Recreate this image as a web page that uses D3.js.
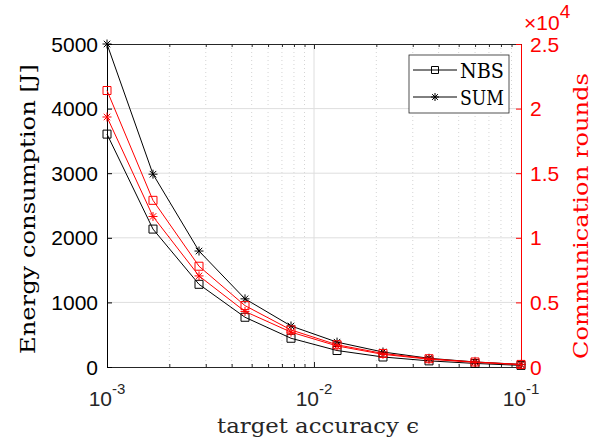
<!DOCTYPE html>
<html>
<head>
<meta charset="utf-8">
<script src="https://cdn.jsdelivr.net/npm/d3@7"></script>
<style>
  body { margin: 0; background: #fff; }
  text { font-family: "Liberation Sans", Arial, sans-serif; }
  .serif { font-family: "DejaVu Serif", "Liberation Serif", serif; }
</style>
</head>
<body>
<div id="chart"></div>
<script>
// target accuracy values (log spaced)
var accuracy = [0.001, 0.001668, 0.002783, 0.004642, 0.007743, 0.01292, 0.02154, 0.03594, 0.05995, 0.1]
// energy consumption [J]
var energy_nbs = [3605, 2135, 1280, 770, 445, 255, 155, 95, 55, 25]
var energy_sum = [5000, 2985, 1795, 1055, 635, 385, 232, 135, 78, 40]
// communication rounds
var rounds_nbs = [21400, 12900, 7800, 4750, 2870, 1720, 1050, 640, 390, 200]
var rounds_sum = [19350, 11650, 7050, 4300, 2700, 1630, 980, 600, 360, 180]

var left_ticks = [0, 1000, 2000, 3000, 4000, 5000]
var right_ticks = [0, 5000, 10000, 15000, 20000, 25000]
var right_tick_labels = ["0", "0.5", "1", "1.5", "2", "2.5"]
var x_ticks = [0.001, 0.01, 0.1]
var x_tick_exp = ["-3", "-2", "-1"]
var legend_items = [{name: "NBS", marker: "square"}, {name: "SUM", marker: "star"}]

var margin = {top: 44, right: 73, bottom: 73, left: 107}
var W = 594, H = 440
var width = W - margin.left - margin.right
var height = H - margin.top - margin.bottom

var svg = d3.select("#chart").append("svg")
    .attr("width", W)
    .attr("height", H)

var g = svg.append("g")
    .attr("transform", "translate(" + margin.left + "," + margin.top + ")")

var x = d3.scaleLog().domain([0.001, 0.1]).range([0, width])
var yL = d3.scaleLinear().domain([0, 5000]).range([height, 0])
var yR = d3.scaleLinear().domain([0, 25000]).range([height, 0])

var minor = []
;[0.001, 0.01].forEach(function(d){
  for (var k = 2; k <= 9; k++) minor.push(d * k)
})

// grid
g.append("g").selectAll("line").data(minor).enter().append("line")
    .attr("x1", function(d){ return x(d) }).attr("x2", function(d){ return x(d) })
    .attr("y1", 0).attr("y2", height)
    .attr("stroke", "#d4d4d4").attr("stroke-width", 1)
    .attr("stroke-dasharray", "1,3")
g.append("g").selectAll("line").data([0.01]).enter().append("line")
    .attr("x1", function(d){ return x(d) }).attr("x2", function(d){ return x(d) })
    .attr("y1", 0).attr("y2", height)
    .attr("stroke", "#dedede").attr("stroke-width", 1)
g.append("g").selectAll("line").data(left_ticks.slice(1, -1)).enter().append("line")
    .attr("x1", 0).attr("x2", width)
    .attr("y1", function(d){ return yL(d) }).attr("y2", function(d){ return yL(d) })
    .attr("stroke", "#dedede").attr("stroke-width", 1)

// axes
var xAxisB = d3.axisBottom(x).tickValues(x_ticks).tickSizeInner(-5).tickSizeOuter(0).tickFormat("")
var xAxisT = d3.axisTop(x).tickValues(x_ticks).tickSizeInner(-5).tickSizeOuter(0).tickFormat("")
var xMinorB = d3.axisBottom(x).tickValues(minor).tickSizeInner(-3).tickSizeOuter(0).tickFormat("")
var xMinorT = d3.axisTop(x).tickValues(minor).tickSizeInner(-3).tickSizeOuter(0).tickFormat("")

function styleAxis(sel, color){
  sel.selectAll("path").attr("stroke", color).attr("stroke-width", 1)
  sel.selectAll("line").attr("stroke", color).attr("stroke-width", 1)
}

styleAxis(g.append("g").attr("transform", "translate(0," + height + ")").call(xAxisB), "#262626")
styleAxis(g.append("g").attr("transform", "translate(0," + height + ")").call(xMinorB), "#262626")
styleAxis(g.append("g").call(xAxisT), "#262626")
styleAxis(g.append("g").call(xMinorT), "#262626")

var yAxisL = d3.axisLeft(yL).tickValues(left_ticks).tickSizeInner(-5).tickSizeOuter(0).tickFormat("")
styleAxis(g.append("g").call(yAxisL), "#000")
var yAxisR = d3.axisRight(yR).tickValues(right_ticks).tickSizeInner(-5).tickSizeOuter(0).tickFormat("")
styleAxis(g.append("g").attr("transform", "translate(" + width + ",0)").call(yAxisR), "#ff0000")

// tick labels
g.append("g").selectAll("text").data(left_ticks).enter().append("text")
    .attr("x", -9).attr("y", function(d){ return yL(d) })
    .attr("dy", "0.36em")
    .attr("text-anchor", "end")
    .attr("font-size", 21)
    .attr("fill", "#000")
    .text(function(d){ return d })

g.append("g").selectAll("text").data(right_ticks).enter().append("text")
    .attr("x", width + 9).attr("y", function(d){ return yR(d) })
    .attr("dy", "0.36em")
    .attr("font-size", 21)
    .attr("fill", "#ff0000")
    .text(function(d, i){ return right_tick_labels[i] })

var xl = g.append("g").selectAll("text").data(x_ticks).enter().append("text")
    .attr("x", function(d){ return x(d) }).attr("y", height + 39)
    .attr("text-anchor", "middle")
    .attr("font-size", 21)
    .attr("fill", "#262626")
xl.append("tspan").text("10")
xl.append("tspan").attr("dy", -12).attr("font-size", 15).text(function(d, i){ return x_tick_exp[i] })

var mult = svg.append("text")
    .attr("x", margin.left + width + 3).attr("y", 30)
    .attr("fill", "#ff0000")
    .attr("font-size", 21)
mult.append("tspan").text("\u00d710")
mult.append("tspan").attr("dy", -12).attr("font-size", 19).text("4")

// axis labels
svg.append("text").attr("class", "serif")
    .attr("transform", "translate(35,209) rotate(-90)")
    .attr("text-anchor", "middle")
    .attr("font-size", 21)
    .attr("textLength", 290).attr("lengthAdjust", "spacingAndGlyphs")
    .attr("fill", "#000")
    .text("Energy consumption [J]")

svg.append("text").attr("class", "serif")
    .attr("transform", "translate(588,216) rotate(-90)")
    .attr("text-anchor", "middle")
    .attr("font-size", 21)
    .attr("textLength", 286).attr("lengthAdjust", "spacingAndGlyphs")
    .attr("fill", "#ff0000")
    .text("Communication rounds")

svg.append("text").attr("class", "serif")
    .attr("x", 318).attr("y", 433)
    .attr("text-anchor", "middle")
    .attr("font-size", 21)
    .attr("textLength", 202).attr("lengthAdjust", "spacingAndGlyphs")
    .attr("fill", "#262626")
    .text("target accuracy \u03f5")

// series
function starPath(s){
  var r = s / 2, q = r * 0.72
  return "M" + (-r) + ",0L" + r + ",0M0," + (-r) + "L0," + r +
    "M" + (-q) + "," + (-q) + "L" + q + "," + q + "M" + (-q) + "," + q + "L" + q + "," + (-q)
}

function drawSeries(vals, yScale, color, marker){
  var pts = accuracy.map(function(a, i){ return [x(a), yScale(vals[i])] })
  g.append("path")
      .attr("d", d3.line()(pts))
      .attr("fill", "none")
      .attr("stroke", color)
      .attr("stroke-width", 1)
  var m = g.append("g").selectAll("path").data(pts).enter().append("path")
      .attr("transform", function(d){ return "translate(" + d[0] + "," + d[1] + ")" })
      .attr("fill", "none")
      .attr("stroke", color)
      .attr("stroke-width", 1)
  if (marker == "square") m.attr("d", "M-4,-4H4V4H-4Z")
  else m.attr("d", starPath(9))
}

drawSeries(energy_nbs, yL, "#000", "square")
drawSeries(energy_sum, yL, "#000", "star")
drawSeries(rounds_nbs, yR, "#ff0000", "square")
drawSeries(rounds_sum, yR, "#ff0000", "star")

// legend
var lg = svg.append("g").attr("transform", "translate(409,55)")
lg.append("rect")
    .attr("width", 100).attr("height", 58)
    .attr("fill", "#fff")
    .attr("stroke", "#262626").attr("stroke-width", 0.8)
var li = lg.selectAll("g.item").data(legend_items).enter().append("g")
    .attr("class", "item")
    .attr("transform", function(d, i){ return "translate(0," + (15 + i * 27) + ")" })
li.append("line").attr("x1", 4).attr("x2", 48).attr("stroke", "#000").attr("stroke-width", 1)
li.append("path")
    .attr("transform", "translate(26,0)")
    .attr("d", function(d){ return d.marker == "square" ? "M-3.5,-3.5H3.5V3.5H-3.5Z" : starPath(8) })
    .attr("fill", "none").attr("stroke", "#000").attr("stroke-width", 1)
li.append("text").attr("class", "serif")
    .attr("x", 51).attr("dy", "0.36em")
    .attr("font-size", 21)
    .attr("textLength", 44).attr("lengthAdjust", "spacingAndGlyphs")
    .attr("fill", "#000")
    .text(function(d){ return d.name })
</script>
</body>
</html>
